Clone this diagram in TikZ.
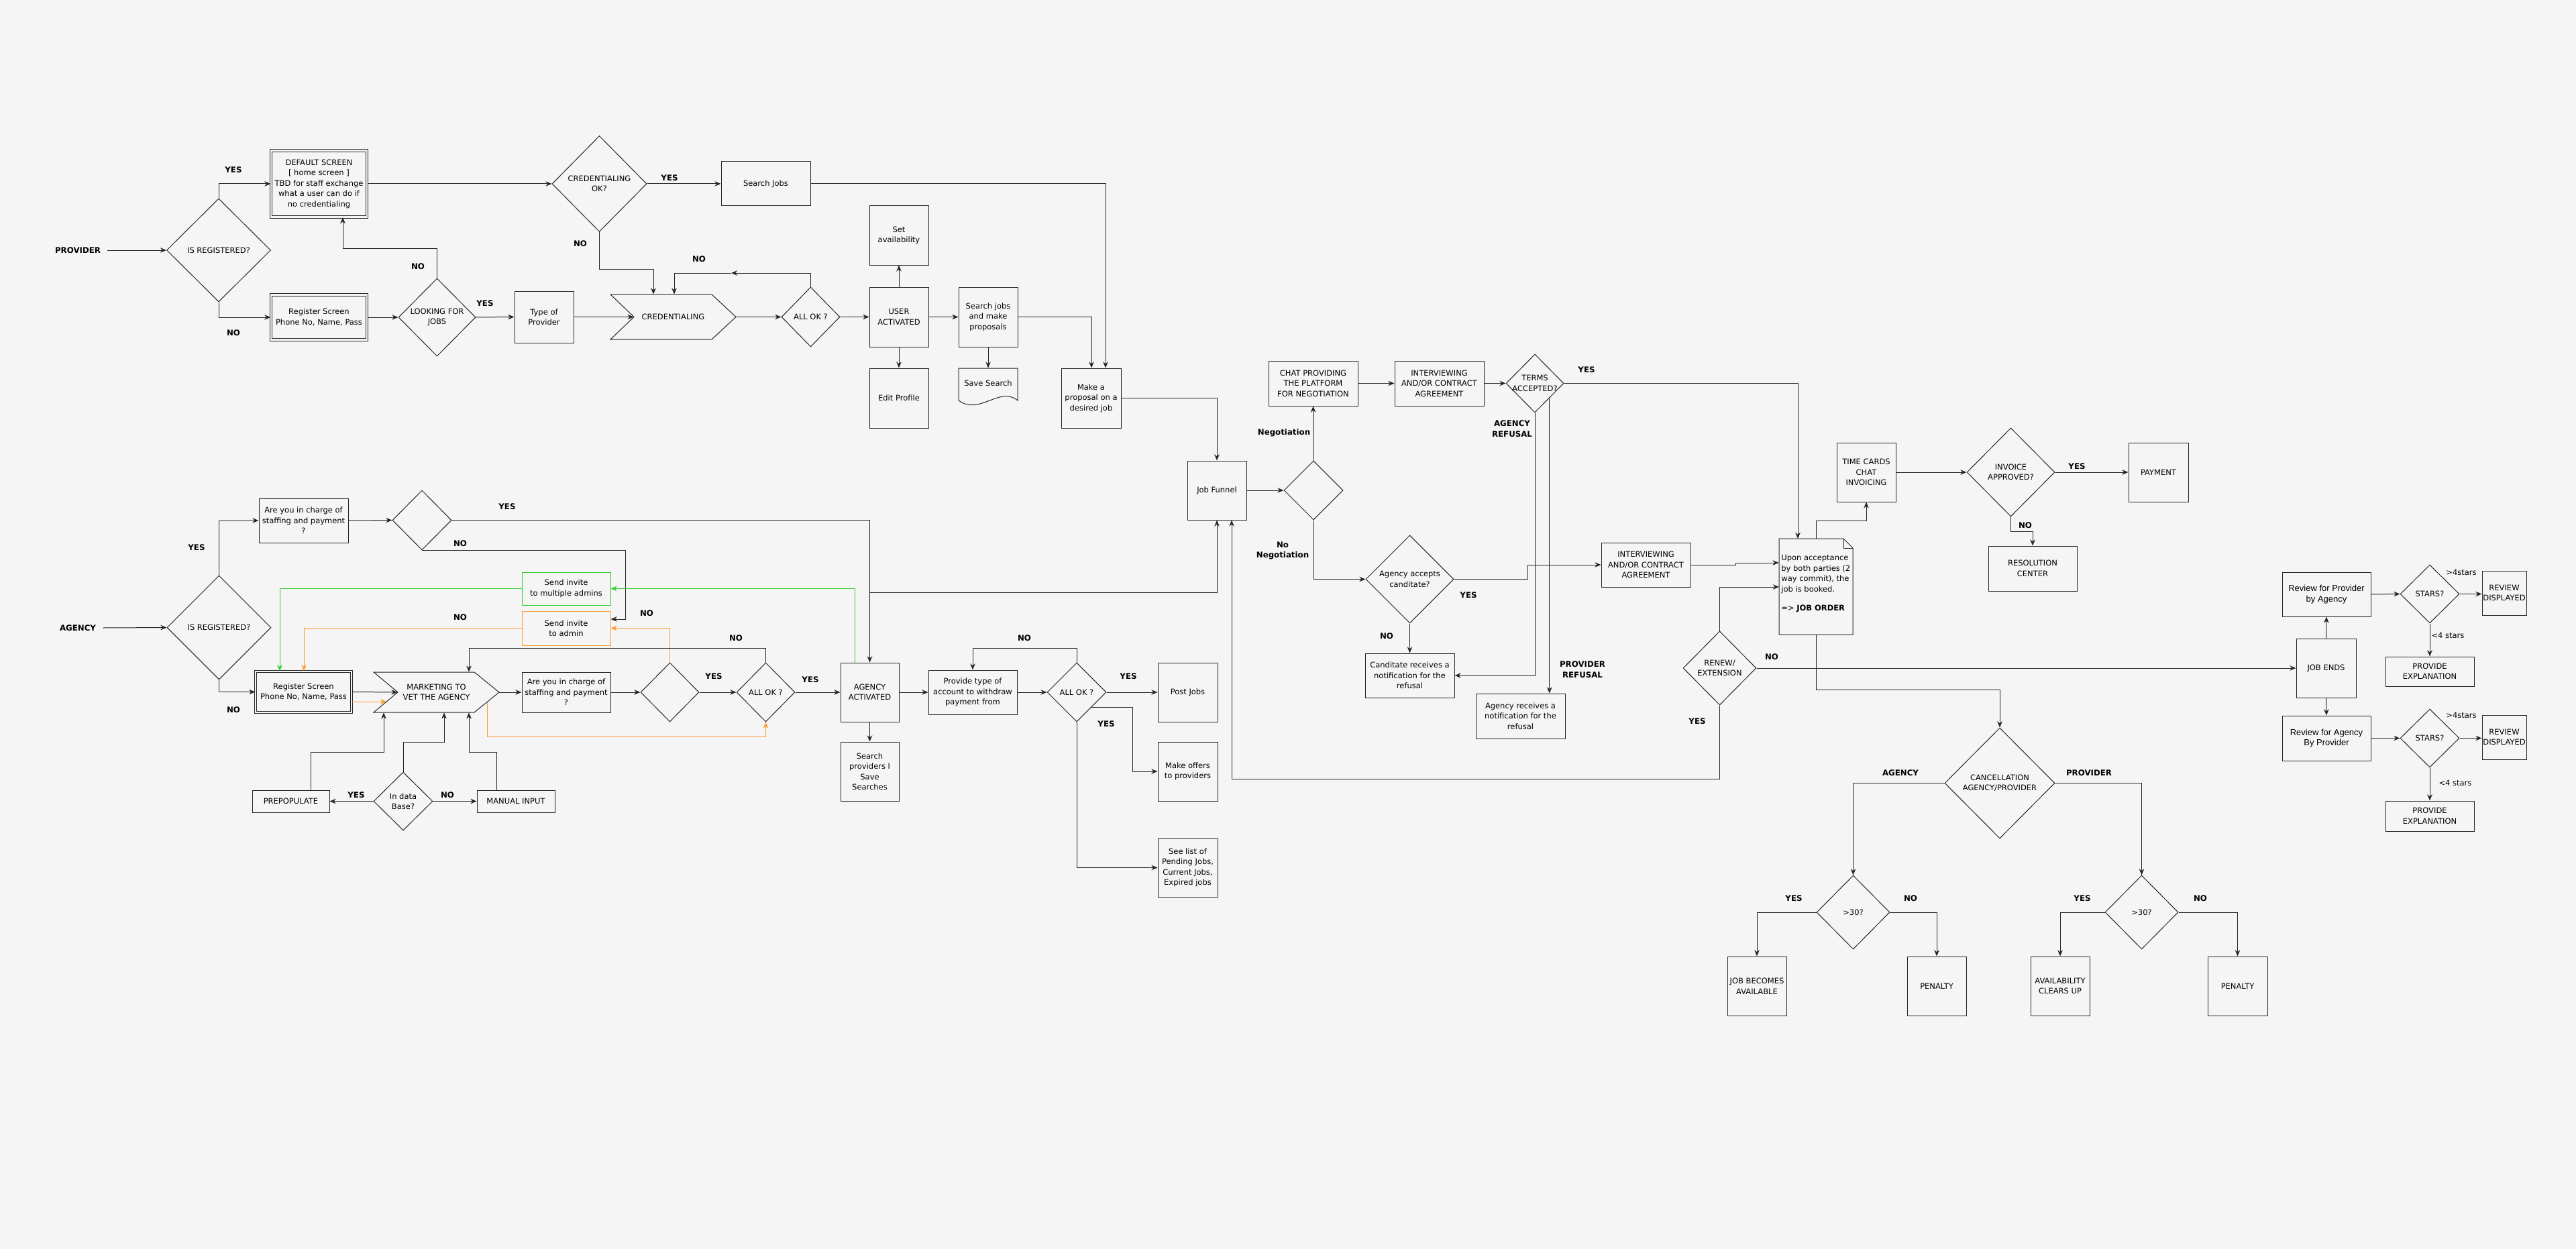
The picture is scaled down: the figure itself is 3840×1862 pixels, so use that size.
\documentclass[tikz,border=0pt]{standalone}
\usepackage{fontspec}
\setmainfont{DejaVu Sans}
\newfontfamily\revfamily{Liberation Sans}
\usetikzlibrary{shapes.geometric,arrows.meta}
\definecolor{bgc}{HTML}{F5F5F5}
\definecolor{gline}{HTML}{33CC33}
\definecolor{oline}{HTML}{FF9933}
\newcommand\myfnt{\fontsize{5.75pt}{7.75pt}\selectfont}
\newcommand\mybf{\fontsize{5.9pt}{7.75pt}\selectfont\bfseries}
\newcommand\myrev{\revfamily\fontsize{6.5pt}{7.8pt}\selectfont}
\begin{document}
\begin{tikzpicture}[x=0.5pt,y=-0.5pt,
  sz/.style 2 args={minimum width=#1*0.5pt, minimum height=#2*0.5pt},
  box/.style={draw=black!85, line width=0.5pt, fill=bgc, inner sep=1pt, align=center, font=\myfnt},
  dbox/.style={box, double=bgc, double distance=1.2pt, line width=0.6pt},
  gbox/.style={box, draw=gline},
  obox/.style={box, draw=oline},
  rbox/.style={box, font=\myrev},
  dia/.style={draw=black!85, line width=0.5pt, fill=bgc, diamond, inner sep=0pt},
  dtxt/.style={font=\myfnt, align=center, inner sep=0pt},
  lab/.style={font=\mybf, align=center, inner sep=0pt},
  nlab/.style={font=\myfnt, inner sep=0pt},
  ln/.style={draw=black!85, line width=0.5pt},
  arr/.style={ln, -{Stealth[length=4.6pt,width=3.8pt]}},
  garr/.style={arr, draw=gline},
  oarr/.style={arr, draw=oline},
]
\useasboundingbox (0,0) rectangle (3840,1862);
\fill[bgc] (0,0) rectangle (3840,1862);

%================ PROVIDER =================
\node[lab] (provlbl) at (116,373) {PROVIDER};
\node[dia, sz={155}{154}, label={[dtxt]center:{IS REGISTERED?}}] (isreg1) at (326,373) {};
\node[dbox, sz={143}{99}] (dflt) at (475.5,274) {DEFAULT SCREEN\\{[} home screen {]}\\TBD for staff exchange\\what a user can do if\\no credentialing};
\node[dbox, sz={143}{67}] (reg1) at (475.5,473) {Register Screen\\Phone No, Name, Pass};
\node[dia, sz={115}{116}, label={[dtxt]center:{LOOKING FOR\\JOBS}}] (lfj) at (651.5,473) {};
\node[box, sz={88}{77}] (type) at (811,472.5) {Type of\\Provider};
\draw[ln, fill=bgc] (910,439) -- (1061,439) -- (1097,472.5) -- (1061,506) -- (910,506) -- (945,472.5) -- cycle;
\node[inner sep=0, sz={187}{67}, font=\myfnt] (cred) at (1003.5,472.5) {CREDENTIALING};
\node[dia, sz={87}{89}, label={[dtxt]center:{ALL OK ?}}] (allok1) at (1208.5,472.5) {};
\node[dia, sz={141}{143}, label={[dtxt]center:{CREDENTIALING\\OK?}}] (credok) at (893.5,274) {};
\node[box, sz={133}{66}] (sjobs) at (1141.5,274) {Search Jobs};
\node[box, sz={88}{88}] (setav) at (1340,351) {Set\\availability};
\node[box, sz={88}{89}] (useract) at (1340,472.5) {USER\\ACTIVATED};
\node[box, sz={88}{89}] (editp) at (1340,593.5) {Edit Profile};
\node[box, sz={88}{89}] (sjmp) at (1473,472.5) {Search jobs\\and make\\proposals};
\draw[ln, fill=bgc] (1429,597) -- (1429,549) -- (1517,549) -- (1517,597) .. controls (1490,575) and (1460,620) .. (1429,597) -- cycle;
\node[inner sep=0, sz={88}{55}, label={[dtxt, yshift=2.75pt]center:{Save Search}}] (saves) at (1473,576.5) {};
\node[box, sz={89}{89}] (mprop) at (1626.5,593.5) {Make a\\proposal on a\\desired job};

\node[lab] (py1) at (348,253) {YES};
\node[lab] (pn1) at (348,496) {NO};
\node[lab] (pn2) at (623,397) {NO};
\node[lab] (py2) at (723,452) {YES};
\node[lab] (py3) at (998,265) {YES};
\node[lab] (pn3) at (865,363) {NO};
\node[lab] (pn4) at (1042,386) {NO};

\draw[arr] ([xshift=5pt]provlbl.east) -- (isreg1.west);
\draw[arr] (isreg1.north) |- (dflt.west);
\draw[arr] (isreg1.south) |- (reg1.west);
\draw[arr] (reg1.east) -- (lfj.west);
\coordinate (b1) at (511,370);
\draw[arr] (lfj.north) |- (b1) -- (b1 |- dflt.south);
\draw[arr] (lfj.east) -- (type.west);
\draw[arr] (type.east) -- ([xshift=17.5pt]cred.west);
\draw[arr] (cred.east) -- (allok1.west);
\coordinate (b2) at (1090,407);
\coordinate (b3) at (1005,407);
\draw[arr] (allok1.north) |- (b2);
\draw[arr] (b2) -- (b3) -- (b3 |- cred.north);
\coordinate (b4) at (974,401);
\draw[arr] (credok.south) |- (b4) -- (b4 |- cred.north);
\draw[arr] (dflt.east) -- (credok.west);
\draw[arr] (credok.east) -- (sjobs.west);
\coordinate (b5) at (1648,274);
\draw[arr] (sjobs.east) -- (b5) -- (b5 |- mprop.north);
\draw[arr] (allok1.east) -- (useract.west);
\draw[arr] (useract.north) -- (setav.south);
\draw[arr] (useract.south) -- (editp.north);
\draw[arr] (useract.east) -- (sjmp.west);
\draw[arr] (sjmp.south) -- (saves.north);
\coordinate (b6) at (1627,472.5);
\draw[arr] (sjmp.east) -- (b6) -- (b6 |- mprop.north);

%================ AGENCY =================
\node[lab] (agylbl) at (116,936) {AGENCY};
\node[dia, sz={155}{155}, label={[dtxt]center:{IS REGISTERED?}}] (isreg2) at (326.5,935.5) {};
\node[box, sz={133}{66}] (aycp1) at (452.5,776) {Are you in charge of\\staffing and payment\\?};
\node[dia, sz={88}{89}] (bd1) at (629,775.5) {};
\node[gbox, sz={132}{49}] (sima) at (844,877.5) {Send invite\\to multiple admins};
\node[obox, sz={132}{51}] (sia) at (844,936.5) {Send invite\\to admin};
\node[dbox, sz={143}{61}] (reg2) at (452.5,1031.5) {Register Screen\\Phone No, Name, Pass};
\draw[ln, fill=bgc] (557,1002) -- (707,1002) -- (744,1032) -- (707,1062) -- (557,1062) -- (593,1032) -- cycle;
\node[inner sep=0, sz={187}{60}, font=\myfnt, align=center] (mkt) at (650.5,1032) {MARKETING TO\\VET THE AGENCY};
\node[box, sz={132}{60}] (aycp2) at (844,1032) {Are you in charge of\\staffing and payment\\?};
\node[dia, sz={87}{88}] (bd2) at (998.5,1032) {};
\node[dia, sz={87}{88}, label={[dtxt]center:{ALL OK ?}}] (allok2) at (1141.5,1032) {};
\node[box, sz={87}{88}] (aa) at (1296.5,1032) {AGENCY\\ACTIVATED};
\node[box, sz={87}{88}] (sprov) at (1296.5,1150) {Search\\providers l\\Save\\Searches};
\node[box, sz={132}{66}] (ptype) at (1450,1032) {Provide type of\\account to withdraw\\payment from};
\node[dia, sz={88}{88}, label={[dtxt]center:{ALL OK ?}}] (allok3) at (1605,1032) {};
\node[box, sz={89}{88}] (post) at (1770.5,1032) {Post Jobs};
\node[box, sz={89}{88}] (moff) at (1770.5,1150) {Make offers\\to providers};
\node[box, sz={89}{87}] (slist) at (1770.5,1293.5) {See list of\\Pending Jobs,\\Current Jobs,\\Expired jobs};
\node[dia, sz={88}{87}, label={[dtxt]center:{In data\\Base?}}] (idb) at (601,1194.5) {};
\node[box, sz={115}{33}] (prepop) at (433.5,1194.5) {PREPOPULATE};
\node[box, sz={116}{33}] (manual) at (769,1194.5) {MANUAL INPUT};

\node[lab] (ay1) at (293,816) {YES};
\node[lab] (ay2) at (756,755) {YES};
\node[lab] (an1) at (686,810) {NO};
\node[lab] (an2) at (686,920) {NO};
\node[lab] (an3) at (964,914) {NO};
\node[lab] (an4) at (348,1058) {NO};
\node[lab] (ay3) at (1064,1008) {YES};
\node[lab] (an5) at (1097,951) {NO};
\node[lab] (ay4) at (1208,1013) {YES};
\node[lab] (ay5) at (531,1185) {YES};
\node[lab] (an6) at (667,1185) {NO};
\node[lab] (an7) at (1527,951) {NO};
\node[lab] (ay6) at (1682,1008) {YES};
\node[lab] (ay7) at (1649,1079) {YES};

\draw[arr] ([xshift=5pt]agylbl.east) -- (isreg2.west);
\draw[arr] (isreg2.north) |- (aycp1.west);
\draw[arr] (aycp1.east) -- (bd1.west);
\draw[arr] (bd1.east) -| (aa.north);
\coordinate (a2) at (932,923);
\draw[arr] (bd1.south) -| (a2) -- (a2 -| sia.east);
\coordinate (g1) at (1274,877.5);
\draw[garr] (g1 |- aa.north) -- (g1) -- (sima.east);
\coordinate (g2) at (417,877.5);
\draw[garr] (sima.west) -- (g2) -- (g2 |- reg2.north);
\coordinate (o1) at (453,936.5);
\draw[oarr] (sia.west) -- (o1) -- (o1 |- reg2.north);
\draw[oarr] (bd2.north) |- (sia.east);
\draw[arr] (isreg2.south) |- (reg2.west);
\draw[arr] (reg2.east) -- ([xshift=18pt]mkt.west);
\coordinate (o2) at (576,1046);
\draw[oarr] (reg2.east |- o2) -- (o2);
\draw[arr] (mkt.east) -- (aycp2.west);
\draw[arr] (aycp2.east) -- (bd2.west);
\draw[arr] (bd2.east) -- (allok2.west);
\draw[arr] (allok2.east) -- (aa.west);
\coordinate (a3) at (699,966);
\draw[arr] (allok2.north) |- (a3) -- (a3 |- mkt.north);
\coordinate (o3) at (726,1047);
\coordinate (o4) at (1141.5,1098);
\draw[oarr] (o3) |- (o4) -- (allok2.south);
\coordinate (a4) at (463,1121);
\coordinate (a5) at (572,1121);
\draw[arr] (a4 |- prepop.north) -- (a4) -- (a5) -- (a5 |- mkt.south);
\coordinate (a6) at (662,1106);
\draw[arr] (idb.north) |- (a6) -- (a6 |- mkt.south);
\coordinate (a7) at (740,1121);
\coordinate (a8) at (699,1121);
\draw[arr] (a7 |- manual.north) -- (a7) -- (a8) -- (a8 |- mkt.south);
\draw[arr] (idb.west) -- (prepop.east);
\draw[arr] (idb.east) -- (manual.west);
\draw[arr] (aa.south) -- (sprov.north);
\draw[arr] (aa.east) -- (ptype.west);
\draw[arr] (ptype.east) -- (allok3.west);
\coordinate (a9) at (1450,966);
\draw[arr] (allok3.north) |- (a9) -- (ptype.north);
\draw[arr] (allok3.east) -- (post.west);
\coordinate (a10) at (1688,1150);
\draw[arr] (allok3.south east) -| (a10) -- (moff.west);
\draw[arr] (allok3.south) |- (slist.west);

%================ JOB FUNNEL / MIDDLE =================
\node[box, sz={88}{88}] (jf) at (1814,731) {Job Funnel};
\node[dia, sz={88}{88}] (bd3) at (1958,731) {};
\node[box, sz={133}{67}] (chat) at (1957.5,571.5) {CHAT PROVIDING\\THE PLATFORM\\FOR NEGOTIATION};
\node[box, sz={133}{67}] (intv1) at (2145.5,571.5) {INTERVIEWING\\AND/OR CONTRACT\\AGREEMENT};
\node[dia, sz={86}{87}, label={[dtxt]center:{TERMS\\ACCEPTED?}}] (terms) at (2288,571.5) {};
\node[dia, sz={131}{131}, label={[dtxt]center:{Agency accepts\\canditate?}}] (aac) at (2101.5,863.5) {};
\node[box, sz={133}{66}] (cand) at (2101.5,1007) {Canditate receives a\\notification for the\\refusal};
\node[box, sz={133}{67}] (agrec) at (2266.5,1067.5) {Agency receives a\\notification for the\\refusal};
\node[box, sz={133}{66}] (intv2) at (2453.5,842) {INTERVIEWING\\AND/OR CONTRACT\\AGREEMENT};
\node[dia, sz={109}{110}, label={[dtxt]center:{RENEW/\\EXTENSION}}] (renew) at (2563.5,996) {};
\draw[ln, fill=bgc] (2652,803) -- (2748,803) -- (2762,817) -- (2762,946) -- (2652,946) -- cycle;
\draw[ln] (2748,803) -- (2748,817) -- (2762,817);
\node[inner sep=0, sz={110}{143}] (upon) at (2707,874.5) {};
\node[font=\myfnt, align=left, anchor=north west, inner sep=0] (upontxt) at (2655,827) {Upon acceptance\\by both parties (2\\way commit), the\\job is booked.\\[6.5pt]=> \textbf{JOB ORDER}};
\node[box, sz={88}{88}] (tc) at (2782,704) {TIME CARDS\\CHAT\\INVOICING};
\node[dia, sz={131}{132}, label={[dtxt]center:{INVOICE\\APPROVED?}}] (inv) at (2997.5,704) {};
\node[box, sz={89}{88}] (pay) at (3217.5,704) {PAYMENT};
\node[box, sz={132}{67}] (resc) at (3030,847.5) {RESOLUTION\\CENTER};

\node[box, sz={89}{88}] (jobends) at (3467.5,996) {JOB ENDS};
\node[rbox, sz={132}{66}] (rpa) at (3468,886) {Review for Provider\\by Agency};
\node[dia, sz={88}{87}, label={[dtxt]center:{STARS?}}] (stars1) at (3622,885.5) {};
\node[box, sz={66}{66}, inner sep=0pt] (rd1) at (3733,884) {REVIEW\\DISPLAYED};
\node[box, sz={132}{44}] (pe1) at (3622,1001) {PROVIDE\\EXPLANATION};
\node[rbox, sz={132}{67}] (rap) at (3468,1100.5) {Review for Agency\\By Provider};
\node[dia, sz={88}{87}, label={[dtxt]center:{STARS?}}] (stars2) at (3622,1100.5) {};
\node[box, sz={66}{66}, inner sep=0pt] (rd2) at (3733,1099) {REVIEW\\DISPLAYED};
\node[box, sz={132}{45}] (pe2) at (3622,1216.5) {PROVIDE\\EXPLANATION};

\node[dia, sz={164}{165}, label={[dtxt]center:{CANCELLATION\\AGENCY/PROVIDER}}] (canc) at (2981,1167.5) {};
\node[dia, sz={109}{110}, label={[dtxt]center:{>30?}}] (g30a) at (2762.5,1360) {};
\node[dia, sz={109}{110}, label={[dtxt]center:{>30?}}] (g30b) at (3192.5,1360) {};
\node[box, sz={88}{88}] (jba) at (2619,1470) {JOB BECOMES\\AVAILABLE};
\node[box, sz={88}{88}] (pen1) at (2887,1470) {PENALTY};
\node[box, sz={88}{88}] (acu) at (3071,1470) {AVAILABILITY\\CLEARS UP};
\node[box, sz={89}{88}] (pen2) at (3335.5,1470) {PENALTY};

\node[lab] (mneg) at (1914,645) {Negotiation};
\node[lab] (mnoneg) at (1912,821) {No\\Negotiation};
\node[lab] (mar) at (2254,639) {AGENCY\\REFUSAL};
\node[lab] (mpr) at (2359,998) {PROVIDER\\REFUSAL};
\node[lab] (my1) at (2365,551) {YES};
\node[lab] (my2) at (2189,887) {YES};
\node[lab] (mn1) at (2067,948) {NO};
\node[lab] (mn2) at (2641,979) {NO};
\node[lab] (my3) at (2530,1075) {YES};
\node[lab] (my4) at (3096,695) {YES};
\node[lab] (mn3) at (3019,783) {NO};
\node[nlab] (st1) at (3669,853) {>4stars};
\node[nlab] (st2) at (3649,947) {<4 stars};
\node[nlab] (st3) at (3669,1066) {>4stars};
\node[nlab] (st4) at (3660,1167) {<4 stars};
\node[lab] (cag) at (2833,1152) {AGENCY};
\node[lab] (cpr) at (3114,1152) {PROVIDER};
\node[lab] (cy1) at (2674,1339) {YES};
\node[lab] (cn1) at (2848,1339) {NO};
\node[lab] (cy2) at (3104,1339) {YES};
\node[lab] (cn2) at (3280,1339) {NO};

\coordinate (b7) at (1814,593.5);
\draw[arr] (mprop.east) -- (b7) -- (jf.north);
\coordinate (a1) at (1296.5,883);
\draw[arr] (a1) -| (jf.south);
\draw[arr] (jf.east) -- (bd3.west);
\draw[arr] (bd3.north) -- (chat.south);
\draw[arr] (chat.east) -- (intv1.west);
\draw[arr] (intv1.east) -- (terms.west);
\coordinate (m1) at (2680,803);
\draw[arr] (terms.east) -| (m1);
\draw[arr] (terms.south) |- (cand.east);
\draw[arr] (terms.south east) -- (terms.south east |- agrec.north);
\draw[arr] (bd3.south) |- (aac.west);
\coordinate (m2) at (2277,863.5);
\draw[arr] (aac.east) -- (m2) |- (intv2.west);
\draw[arr] (aac.south) -- (cand.north);
\coordinate (m3) at (2587,842);
\coordinate (m4) at (2587,839);
\draw[arr] (intv2.east) -- (m3) -- (m4) -- (m4 -| upon.west);
\coordinate (m5) at (2652,875);
\draw[arr] (renew.north) |- (m5);
\draw[arr] (renew.east) -- (jobends.west);
\coordinate (m6) at (1836,1161);
\draw[arr] (renew.south) |- (m6) -- (m6 |- jf.south);
\coordinate (m7) at (2782,776);
\draw[arr] (upon.north) |- (m7) -- (tc.south);
\draw[arr] (tc.east) -- (inv.west);
\draw[arr] (inv.east) -- (pay.west);
\coordinate (m8) at (3030,792);
\draw[arr] (inv.south) |- (m8) -- (resc.north);
\coordinate (m9) at (2981,1028);
\draw[arr] (upon.south) |- (m9) -- (canc.north);
\draw[arr] (canc.west) -| (g30a.north);
\draw[arr] (canc.east) -| (g30b.north);
\draw[arr] (g30a.west) -| (jba.north);
\draw[arr] (g30a.east) -| (pen1.north);
\draw[arr] (g30b.west) -| (acu.north);
\draw[arr] (g30b.east) -| (pen2.north);
\draw[arr] (jobends.north) -- (rpa.south);
\draw[arr] (jobends.south) -- (rap.north);
\draw[arr] (rpa.east) -- (stars1.west);
\draw[arr] (stars1.east) -- (stars1.east -| rd1.west);
\draw[arr] (stars1.south) -- (pe1.north);
\draw[arr] (rap.east) -- (stars2.west);
\draw[arr] (stars2.east) -- (stars2.east -| rd2.west);
\draw[arr] (stars2.south) -- (pe2.north);
\end{tikzpicture}
\end{document}
